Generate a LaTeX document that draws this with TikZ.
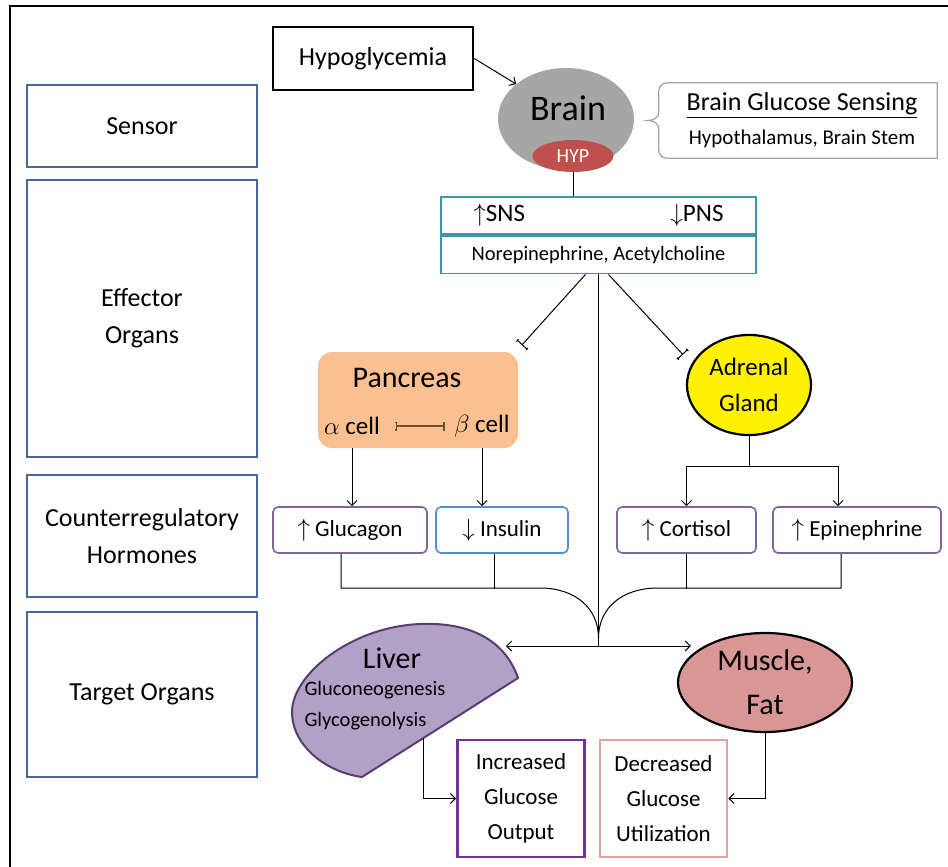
\documentclass[tikz,border=0pt]{standalone}
\usepackage{fontspec}
\setmainfont{Carlito}
\usetikzlibrary{positioning,shapes,arrows.meta,calc}

\definecolor{levelBlue}{RGB}{74,105,155}
\definecolor{brainGray}{RGB}{166,166,166}
\definecolor{hypRed}{RGB}{192,80,77}
\definecolor{sensGray}{RGB}{165,165,165}
\definecolor{nsTeal}{RGB}{62,150,170}
\definecolor{pancOrange}{RGB}{250,192,144}
\definecolor{inhibBrown}{RGB}{110,80,50}
\definecolor{hormPurple}{RGB}{128,100,162}
\definecolor{insBlue}{RGB}{84,141,212}
\definecolor{liverLilac}{RGB}{178,161,199}
\definecolor{liverEdge}{RGB}{90,60,110}
\definecolor{muscleRose}{RGB}{217,150,148}
\definecolor{outPurple}{RGB}{112,48,160}
\definecolor{outPink}{RGB}{226,160,158}

\begin{document}
\begin{tikzpicture}[x=1pt,y=1pt, font=\fontsize{23}{28}\selectfont,
 >={Straight Barb[length=5pt,width=10pt]},
 level/.style={draw=levelBlue, line width=1.6pt, minimum width=230pt, align=center,
            font=\fontsize{26}{37}\selectfont},
 hormone/.style={draw=hormPurple, line width=1.6pt, rounded corners=5pt, minimum height=46pt,
            fill=white},
 outcome/.style={line width=2.8pt, minimum width=127pt, minimum height=117pt, align=center,
            font=\fontsize{23}{35}\selectfont},
 organ/.style={ellipse, draw=black, line width=2.2pt, align=center, inner sep=0pt},
 inhib/.style={-{Tee Barb[width=14pt,length=3pt]}},
 link/.style={line width=1pt}]

            \useasboundingbox (0,0) rectangle (948,-867);
            \draw[line width=2pt] (10,-867) -- (10,-6) -- (948,-6);

            % levels
            \node[level, minimum height=82pt] (sensor) at (142,-126) {Sensor};
            \node[level, minimum height=277pt] (effector) at (142,-318.5) {Effector\\Organs};
            \node[level, minimum height=122pt] (counter) at (142,-536) {Counterregulatory\\Hormones};
            \node[level, minimum height=165pt] (target) at (142,-694.5) {Target Organs};

            % sensor
            \node[draw, line width=2.5pt, minimum width=200pt, minimum height=63pt,
                font=\fontsize{26}{30}\selectfont] (hypo) at (373,-58.5) {Hypoglycemia};
            \node[ellipse, fill=brainGray, minimum width=136pt, minimum height=102pt] (brain) at (566,-119) {};
            \node[font=\fontsize{36}{40}\selectfont] (brainlbl) at (568,-108) {Brain};
            \node[ellipse, fill=hypRed, text=white, minimum width=81pt, minimum height=32pt, inner sep=0pt,
                font=\fontsize{20}{24}\selectfont] (hyp) at (573,-156) {HYP};
            \node[minimum width=270pt, minimum height=75pt, align=center,
                font=\fontsize{26}{34}\selectfont] (sensing) at (802,-120.5)
                {\underline{Brain Glucose Sensing}\\{\fontsize{21}{24}\selectfont Hypothalamus, Brain Stem}};
            \draw[draw=sensGray, line width=1.3pt] (sensing.north west) -- (sensing.north east)
                -- (sensing.south east) -- (sensing.south west)
                to[out=180,in=-90] ($(sensing.south west)+(-8,8)$) -- ($(sensing.west)+(-8,-8)$)
                to[out=90,in=0] ($(sensing.west)+(-19,0)$)
                to[out=0,in=-90] ($(sensing.west)+(-8,8)$) -- ($(sensing.north west)+(-8,-8)$)
                to[out=90,in=180] (sensing.north west);
            \draw[->, link] (hypo.east) -- (brain.145);

            % effector
            \node[draw=nsTeal, line width=1.8pt, minimum width=315pt, minimum height=37.5pt,
                font=\fontsize{25}{28}\selectfont] (sns) at (598.5,-215.5)
                {\makebox[250pt]{$\uparrow$SNS\hfill$\downarrow$PNS}};
            \node[draw=nsTeal, line width=1.8pt, minimum width=315pt, minimum height=37.5pt,
                font=\fontsize{20.5}{22}\selectfont, below=0pt of sns] (transm) {Norepinephrine, Acetylcholine};
            \draw[link] (hyp.south) -- (hyp.south |- sns.north);

            \node[fill=pancOrange, rounded corners=14pt, minimum width=200pt, minimum height=96pt] (panc) at (418,-400) {};
            \node[font=\fontsize{30}{34}\selectfont] (pancl) at (407,-378) {Pancreas};
            \node[font=\fontsize{25}{28}\selectfont] (alpha) at (352,-426) {$\alpha$ cell};
            \node[font=\fontsize{25}{28}\selectfont] (beta) at (482,-426) {$\beta$ cell};
            \draw[draw=inhibBrown, line width=1.5pt, {Tee Barb[width=9pt,length=2pt]}-{Tee Barb[width=9pt,length=2pt]},
                shorten <=12pt, shorten >=6pt] (alpha) -- (beta);

            \node[organ, fill=yellow, minimum width=124pt, minimum height=100pt,
                font=\fontsize{25}{36}\selectfont] (adrenal) at (749,-385) {Adrenal\\Gland};

            \coordinate (hub) at (598.5,-646);
            \coordinate (merge) at (598.5,-638);
            \draw[link, inhib] ([xshift=-13pt]transm.south) -- ([shift={(3pt,6pt)}]panc.north east);
            \draw[link, inhib] ([xshift=10pt]transm.south) -- ([xshift=-14pt]adrenal.150);
            \draw[link] (transm.south) -- (hub);

            % hormones
            \node[hormone, minimum width=154pt] (gluc) at (350,-530) {$\uparrow$ Glucagon};
            \node[hormone, draw=insBlue, minimum width=132pt] (ins) at (502,-530) {$\downarrow$ Insulin};
            \node[hormone, minimum width=139pt] (cort) at (686.5,-530) {$\uparrow$ Cortisol};
            \node[hormone, minimum width=168pt] (epi) at (857,-530) {$\uparrow$ Epinephrine};

            \draw[->, link] (alpha |- panc.south) -- (alpha |- gluc.north);
            \draw[->, link] (beta |- panc.south) -- (beta |- ins.north);
            \coordinate (afork) at (749,-466);
            \draw[link] (adrenal.south) -- (afork);
            \draw[->, link] (afork) -| (cort.north);
            \draw[->, link] (afork) -| ([xshift=-19pt]epi.north);

            \draw[link] ([xshift=-9pt]gluc.south) |- (540,-588) .. controls (575,-588) and (598.5,-608) .. (merge);
            \draw[link] ([xshift=-7.5pt]ins.south) -- ++(0,-35);
            \draw[link] ([xshift=-16pt]epi.south) |- (658,-588) .. controls (622,-588) and (598.5,-608) .. (merge);
            \draw[link] (cort.south) -- ++(0,-35);

            % targets
            \draw[draw=liverEdge, fill=liverLilac, line width=2pt] (518,-678)
                .. controls (505,-640) and (470,-622) .. (420,-624)
                .. controls (350,-627) and (292,-675) .. (292,-712)
                .. controls (292,-745) and (325,-772) .. (362,-777) -- cycle;
            \coordinate (liverin) at (506,-646);
            \coordinate (liverout) at (423,-738);
            \node[font=\fontsize{30}{34}\selectfont] (liver) at (392,-658) {Liver};
            \node[anchor=west, align=left, font=\fontsize{20.5}{31}\selectfont] (liverproc) at (301,-706)
                {Gluconeogenesis\\Glycogenolysis};
            \node[organ, fill=muscleRose, minimum width=174pt, minimum height=99pt,
                font=\fontsize{30}{44}\selectfont] (mus) at (765,-682.5) {Muscle,\\Fat};

            \node[outcome, draw=outPurple] (incr) at (521,-798.5) {Increased\\Glucose\\Output};
            \node[outcome, draw=outPink] (decr) at (663.5,-798.5) {Decreased\\Glucose\\Utilization};

            \draw[->, link] (hub) -- (liverin);
            \draw[->, link] (hub) -- ([xshift=14pt]hub -| mus.west);
            \draw[->, link] (liverout) |- (incr.west);
            \draw[->, link] (mus.south) |- (decr.east);
\end{tikzpicture}
\end{document}
